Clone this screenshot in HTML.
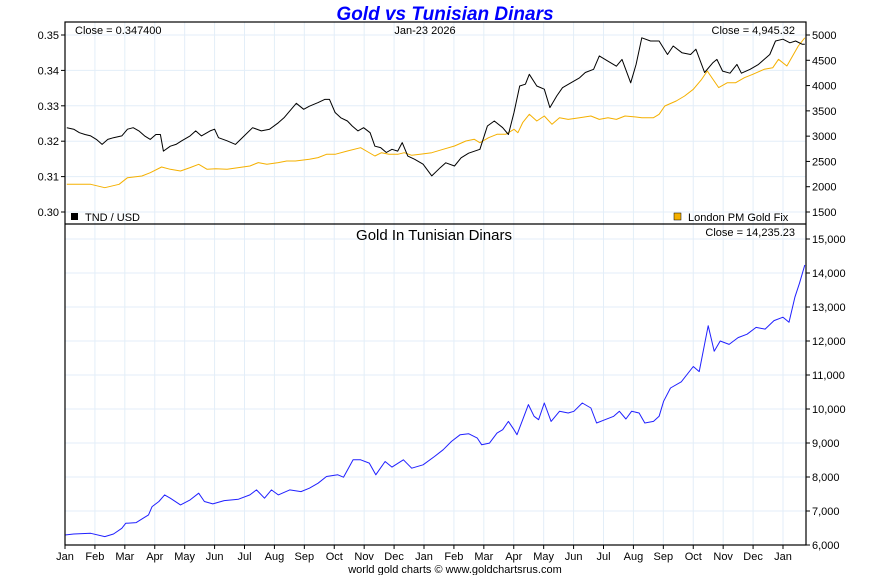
<!DOCTYPE html>
<html><head><meta charset="utf-8"><style>
html,body{margin:0;padding:0;background:#fff;}
svg{display:block;font-family:"Liberation Sans",Arial,sans-serif;}
</style></head><body>
<svg id="chart" width="890" height="575" viewBox="0 0 890 575">
<text x="445" y="20" text-anchor="middle" font-size="19" font-weight="bold" font-style="italic" fill="#0000ff">Gold vs Tunisian Dinars</text>
<g id="grid"></g>
<g id="series"></g>
<g id="axes"></g>
<rect x="65" y="22" width="741" height="523" fill="none" stroke="#000" stroke-width="1.2"/>
<line x1="65" y1="224" x2="806" y2="224" stroke="#000" stroke-width="1.2"/>
<text x="75" y="34" font-size="11">Close = 0.347400</text>
<text x="425" y="34" text-anchor="middle" font-size="11">Jan-23  2026</text>
<text x="795" y="34" text-anchor="end" font-size="11">Close = 4,945.32</text>
<rect x="71" y="213" width="7" height="7" fill="#000"/>
<text x="85" y="221" font-size="11">TND / USD</text>
<rect x="674" y="213" width="7" height="7" fill="#f5b000" stroke="#000" stroke-width="0.5"/>
<text x="688" y="221" font-size="11">London PM Gold Fix</text>
<text x="434" y="240" text-anchor="middle" font-size="15">Gold In Tunisian Dinars</text>
<text x="795" y="236" text-anchor="end" font-size="11">Close = 14,235.23</text>
<text x="455" y="573" text-anchor="middle" font-size="11">world gold charts © www.goldchartsrus.com</text>
</svg>
<script>
const monthLabels=["Jan","Feb","Mar","Apr","May","Jun","Jul","Aug","Sep","Oct","Nov","Dec","Jan","Feb","Mar","Apr","May","Jun","Jul","Aug","Sep","Oct","Nov","Dec","Jan"];
const leftTicks=[0.30,0.31,0.32,0.33,0.34,0.35];
const rightTicks=[1500,2000,2500,3000,3500,4000,4500,5000];
const lowerTicks=[6000,7000,8000,9000,10000,11000,12000,13000,14000,15000];
// t = months since Jan 2024
const tndT=[0.06,0.29,0.48,0.67,0.86,1.05,1.24,1.43,1.62,1.90,2.09,2.28,2.47,2.66,2.85,3.04,3.19,3.29,3.52,3.71,3.90,4.18,4.37,4.56,4.85,5.00,5.13,5.42,5.70,5.99,6.27,6.56,6.84,7.13,7.32,7.51,7.73,7.98,8.17,8.46,8.68,8.84,9.03,9.22,9.44,9.60,9.79,9.98,10.20,10.36,10.55,10.74,10.93,11.12,11.27,11.46,11.69,11.97,12.26,12.54,12.73,13.02,13.24,13.49,13.87,14.12,14.35,14.63,14.82,15.01,15.20,15.39,15.52,15.77,16.02,16.21,16.44,16.63,16.91,17.20,17.39,17.67,17.86,18.15,18.43,18.62,18.91,19.09,19.28,19.57,19.86,20.14,20.33,20.62,20.91,21.09,21.38,21.66,21.79,21.98,22.23,22.46,22.61,22.90,23.18,23.37,23.56,23.75,24.00,24.23,24.42,24.64,24.73];
const tndUsd=[0.3238,0.3234,0.3224,0.3219,0.3215,0.3205,0.3191,0.3205,0.3210,0.3215,0.3234,0.3238,0.3229,0.3215,0.3205,0.3219,0.3219,0.3172,0.3186,0.3191,0.3201,0.3215,0.3229,0.3215,0.3229,0.3234,0.3210,0.3201,0.3191,0.3215,0.3238,0.3229,0.3234,0.3252,0.3266,0.3285,0.3307,0.3290,0.3299,0.3309,0.3318,0.3318,0.3281,0.3266,0.3257,0.3243,0.3229,0.3238,0.3224,0.3186,0.3182,0.3168,0.3177,0.3172,0.3196,0.3158,0.3149,0.3135,0.3102,0.3125,0.3139,0.3130,0.3153,0.3166,0.3177,0.3243,0.3257,0.3238,0.3219,0.3281,0.3356,0.3361,0.3389,0.3356,0.3347,0.3295,0.3328,0.3351,0.3365,0.3379,0.3394,0.3403,0.3441,0.3426,0.3412,0.3431,0.3365,0.3417,0.3492,0.3483,0.3483,0.3445,0.3469,0.3450,0.3445,0.3460,0.3394,0.3422,0.3431,0.3398,0.3392,0.3417,0.3392,0.3403,0.3417,0.3431,0.3445,0.3483,0.3488,0.3478,0.3483,0.3474,0.3474];
const goldT=[0.06,0.48,0.86,1.33,1.81,2.09,2.57,2.85,3.23,3.52,3.86,4.18,4.47,4.75,5.04,5.42,5.80,6.18,6.46,6.75,7.13,7.41,7.70,8.17,8.46,8.74,9.03,9.44,9.88,10.07,10.36,10.58,10.83,11.12,11.34,11.59,11.87,12.26,12.64,13.02,13.40,13.68,13.87,14.16,14.44,14.73,15.01,15.14,15.30,15.52,15.77,16.02,16.28,16.53,16.82,17.20,17.58,17.86,18.15,18.43,18.72,19.00,19.28,19.67,19.86,20.05,20.43,20.71,21.00,21.28,21.47,21.66,21.85,22.14,22.42,22.71,22.99,23.37,23.66,23.85,24.13,24.32,24.51,24.73];
const goldUsd=[2047,2047,2047,1981,2047,2179,2212,2278,2390,2344,2311,2377,2443,2344,2357,2344,2377,2410,2476,2443,2476,2509,2509,2542,2575,2640,2640,2706,2772,2706,2607,2673,2640,2640,2673,2621,2640,2673,2739,2805,2904,2937,2871,2970,3036,3036,3135,3069,3267,3431,3300,3398,3234,3365,3332,3365,3398,3332,3365,3332,3398,3385,3365,3365,3431,3596,3695,3794,3926,4123,4288,4123,3959,4057,4057,4156,4222,4321,4354,4519,4387,4585,4782,4945];
const tndGoldT=[0,0.29,0.86,1.33,1.62,1.90,2.03,2.38,2.66,2.79,2.91,3.14,3.33,3.52,3.86,4.18,4.47,4.66,4.94,5.32,5.80,6.18,6.40,6.67,6.90,7.13,7.51,7.89,8.17,8.46,8.74,9.12,9.31,9.63,9.88,10.17,10.39,10.70,10.93,11.31,11.59,11.97,12.35,12.64,12.92,13.21,13.49,13.78,13.93,14.19,14.44,14.63,14.82,15.01,15.11,15.30,15.49,15.68,15.83,16.02,16.25,16.53,16.82,17.01,17.29,17.58,17.77,18.05,18.34,18.53,18.75,18.94,19.19,19.38,19.67,19.86,20.01,20.24,20.6,21.0,21.2,21.5,21.7,21.9,22.2,22.5,22.8,23.1,23.4,23.7,24.0,24.2,24.4,24.55,24.73];
const tndGold=[6295,6324,6344,6246,6324,6491,6639,6658,6816,6885,7130,7278,7474,7376,7179,7327,7523,7278,7209,7307,7346,7474,7622,7376,7622,7474,7622,7572,7671,7818,8015,8064,7995,8506,8506,8408,8064,8457,8290,8506,8260,8359,8604,8801,9047,9243,9273,9145,8948,8998,9292,9391,9636,9391,9243,9685,10128,9784,9685,10177,9636,9931,9882,9931,10177,10029,9587,9685,9784,9931,9705,9931,9882,9587,9636,9784,10226,10619,10800,11250,11100,12450,11700,12000,11900,12100,12200,12400,12350,12600,12700,12550,13300,13700,14235];

const NS="http://www.w3.org/2000/svg";
const X0=65,X1=806,XJ=783;
const xs=t=>X0+t*(XJ-X0)/24;
const yL=v=>35+(0.35-v)/0.05*(212-35);
const yR=v=>35+(5000-v)/3500*(212-35);
const yB=v=>239+(15000-v)/9000*(545-239);
function mk(tag,attrs,parent){const e=document.createElementNS(NS,tag);for(const k in attrs)e.setAttribute(k,attrs[k]);parent.appendChild(e);return e;}
const grid=document.getElementById('grid'),axes=document.getElementById('axes'),series=document.getElementById('series');
monthLabels.forEach((m,i)=>{
  const x=xs(i);
  if(i>0){const g=mk('line',{x1:x,x2:x,y1:22,y2:545,stroke:'#e3eef8','stroke-width':1},grid);
  
  }
  const tk=mk('line',{x1:x,x2:x,y1:545,y2:549,stroke:'#000'},axes);
  
  
  const t=mk('text',{x:x,y:560,'text-anchor':'middle','font-size':11},axes);t.textContent=m;
  
  
});
leftTicks.forEach(v=>{
  const y=yL(v);
  const g=mk('line',{x1:X0,x2:X1,y1:y,y2:y,stroke:'#e3eef8'},grid);
  
  
  const tk=mk('line',{x1:61,x2:65,y1:y,y2:y,stroke:'#000'},axes);
  
  
  const t=mk('text',{x:59,y:y+4,'text-anchor':'end','font-size':11},axes);t.textContent=v.toFixed(2);
  
  
});
rightTicks.forEach(v=>{
  const y=yR(v);
  const tk=mk('line',{x1:806,x2:810,y1:y,y2:y,stroke:'#000'},axes);
  
  
  const t=mk('text',{x:812,y:y+4,'font-size':11},axes);t.textContent=String(v);
  
  
});
lowerTicks.forEach(v=>{
  const y=yB(v);
  const g=mk('line',{x1:X0,x2:X1,y1:y,y2:y,stroke:'#e3eef8'},grid);
  
  
  const tk=mk('line',{x1:806,x2:810,y1:y,y2:y,stroke:'#000'},axes);
  
  
  const t=mk('text',{x:812,y:y+4,'font-size':11},axes);t.textContent=v.toLocaleString('en-US');
  
  
});
function line(ts,vs,yf,color,name){
  const d=ts.map((t,i)=>(i?'L':'M')+xs(t).toFixed(1)+' '+yf(vs[i]).toFixed(1)).join(' ');
  const p=mk('path',{d:d,fill:'none',stroke:color,'stroke-width':1,'stroke-linejoin':'round'},series);
  
  
}
line(goldT,goldUsd,yR,'#f5b000','gold-usd-line');
line(tndT,tndUsd,yL,'#000000','tnd-usd-line');
line(tndGoldT,tndGold,yB,'#2020ff','gold-in-tnd-line');
</script>
</body></html>
